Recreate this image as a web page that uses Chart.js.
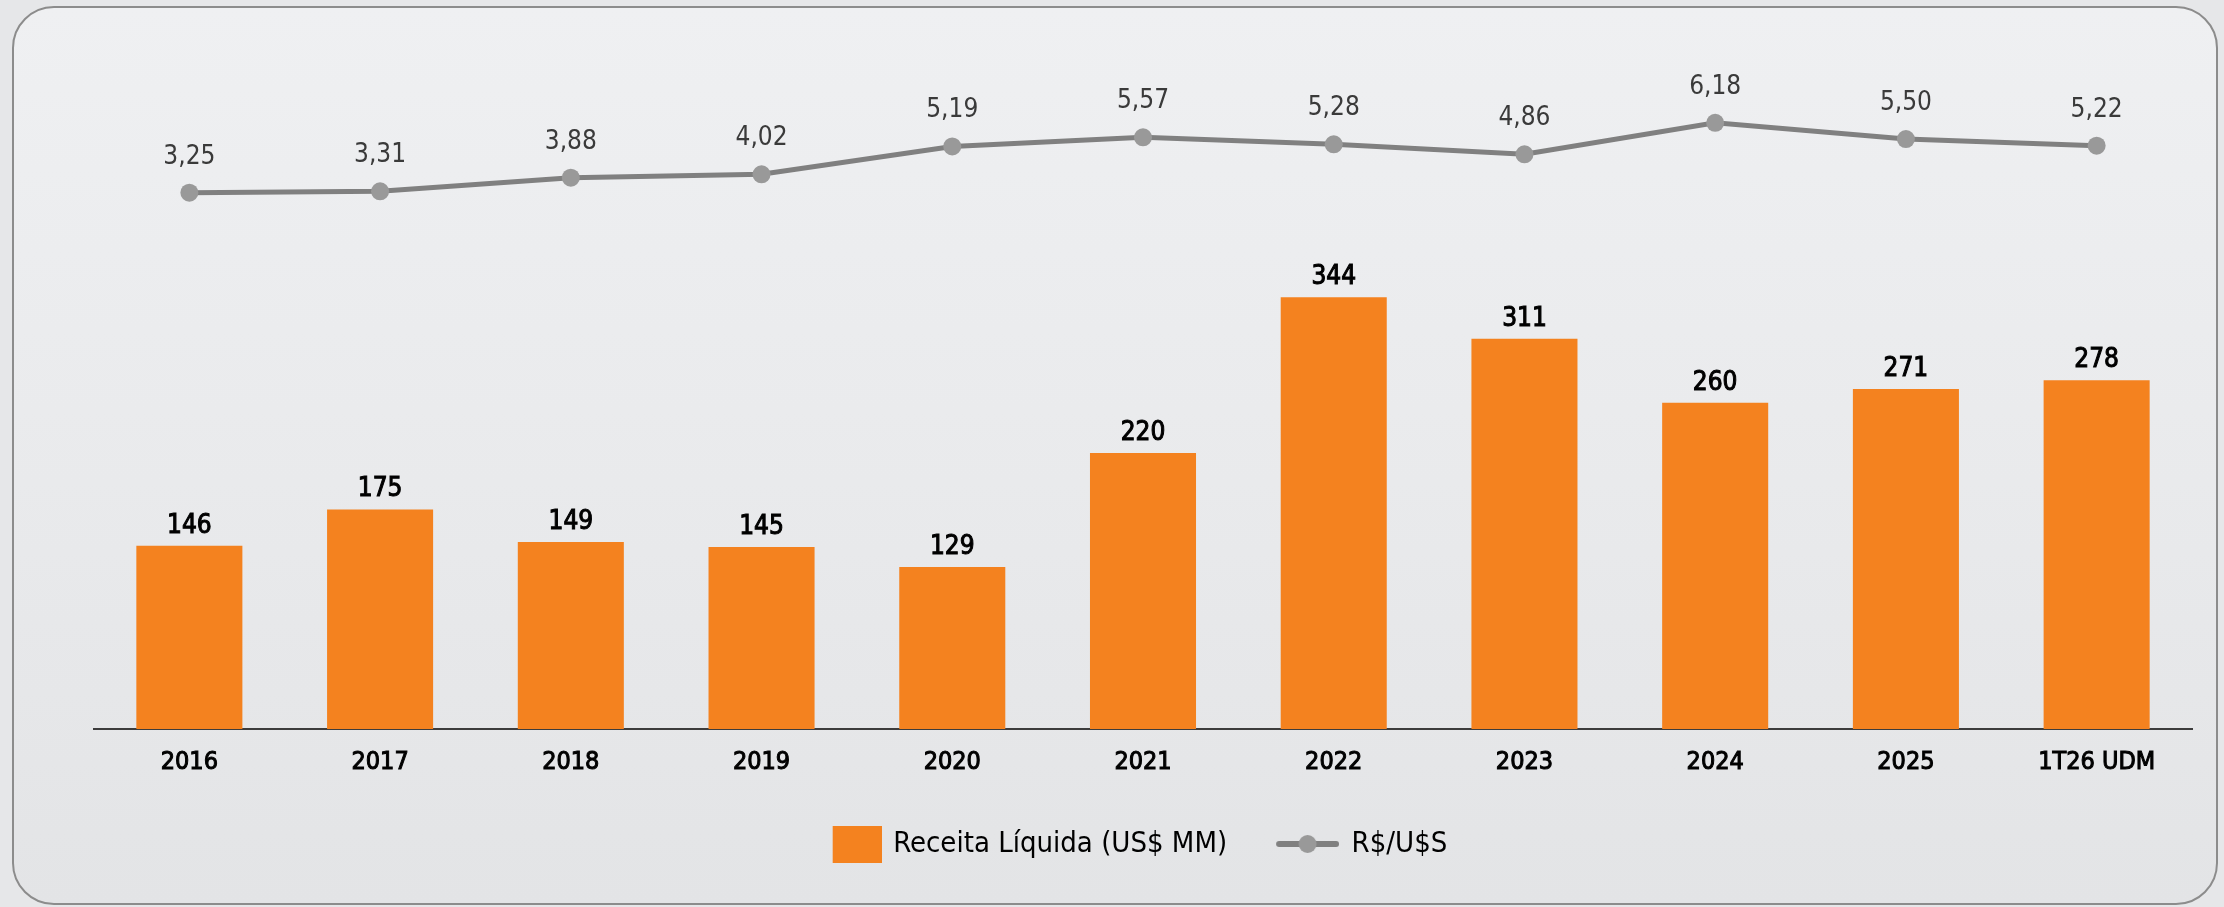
<!DOCTYPE html>
<html>
<head>
<meta charset="utf-8">
<script src="https://cdn.jsdelivr.net/npm/chart.js@4.4.1/dist/chart.umd.min.js"></script>
<style>
  html, body { margin: 0; padding: 0; width: 2224px; height: 907px; overflow: hidden; background: #e6e7e9; }
  .frame {
    position: absolute; left: 12px; top: 6px; width: 2206px; height: 899px;
    box-sizing: border-box; border: 2px solid #8c8c8c; border-radius: 42px;
    background: linear-gradient(180deg, #eff0f2 0%, #eaebed 45%, #e3e4e6 100%);
  }
  #chart { position: absolute; left: 0; top: 0; }
</style>
</head>
<body>
<div class="frame"></div>
<canvas id="chart" width="2224" height="907"></canvas>
<script>
const FONT = "'DejaVu Sans Condensed', 'DejaVu Sans', sans-serif";

// categories and series
const years = ['2016', '2017', '2018', '2019', '2020', '2021', '2022', '2023', '2024', '2025', '1T26 UDM'];
const receita = [146, 175, 149, 145, 129, 220, 344, 311, 260, 271, 278];
const cambio = [3.25, 3.31, 3.88, 4.02, 5.19, 5.57, 5.28, 4.86, 6.18, 5.50, 5.22];

const orange = '#f4821f';
const lineGrey = '#808080';
const dotGrey = '#999999';

// legend icons (canvas images used as point styles)
function rectIcon(canvasW, x0, w, h) {
  const c = document.createElement('canvas');
  c.width = canvasW; c.height = h;
  const g = c.getContext('2d');
  g.fillStyle = orange;
  g.fillRect(x0, 0, w, h);
  return c;
}
function lineIcon(canvasW, x0, w, h) {
  const c = document.createElement('canvas');
  c.width = canvasW; c.height = h;
  const g = c.getContext('2d');
  g.strokeStyle = lineGrey; g.lineWidth = 6; g.lineCap = 'round';
  g.beginPath(); g.moveTo(x0 + 3, h / 2); g.lineTo(x0 + w - 3, h / 2); g.stroke();
  g.fillStyle = dotGrey;
  g.beginPath(); g.arc(x0 + w / 2, h / 2, 9, 0, Math.PI * 2); g.fill();
  return c;
}

// value labels above bars and points
const valueLabels = {
  id: 'valueLabels',
  afterDatasetsDraw(chart) {
    const ctx = chart.ctx;
    ctx.save();
    ctx.textAlign = 'center';
    ctx.textBaseline = 'alphabetic';
    ctx.fillStyle = '#000000';
    ctx.strokeStyle = '#000000';
    ctx.lineWidth = 1;
    ctx.font = '26px ' + FONT;
    chart.getDatasetMeta(0).data.forEach((bar, i) => {
      const txt = String(receita[i]);
      ctx.fillText(txt, bar.x, bar.y - 13);
      ctx.strokeText(txt, bar.x, bar.y - 13);
    });
    ctx.fillStyle = '#3a3a3a';
    chart.getDatasetMeta(1).data.forEach((pt, i) => {
      ctx.fillText(cambio[i].toFixed(2).replace('.', ','), pt.x, pt.y - 29);
    });
    ctx.restore();
  }
};

// small horizontal nudge for the legend row
const legendShift = {
  id: 'legendShift',
  afterLayout(chart) {
    chart.legend.left -= 10;
    chart.legend.right -= 10;
  }
};

new Chart(document.getElementById('chart'), {
  data: {
    labels: years,
    datasets: [
      {
        type: 'bar',
        label: 'Receita Líquida (US$ MM)',
        data: receita,
        backgroundColor: orange,
        borderWidth: 0,
        yAxisID: 'y',
        categoryPercentage: 1,
        barPercentage: 0.556
      },
      {
        type: 'line',
        label: 'R$/U$S',
        data: cambio,
        borderColor: lineGrey,
        borderWidth: 5,
        pointRadius: 9,
        pointBackgroundColor: dotGrey,
        pointBorderWidth: 0,
        tension: 0,
        yAxisID: 'y1'
      }
    ]
  },
  options: {
    responsive: false,
    animation: false,
    layout: { padding: { left: 94, right: 32, top: 20, bottom: 38.5 } },
    plugins: {
      tooltip: { enabled: false },
      legend: {
        position: 'bottom',
        labels: {
          usePointStyle: true,
          pointStyleWidth: 60,
          padding: 50,
          color: '#000000',
          font: { family: FONT, size: 29 },
          generateLabels: chart => {
            const items = Chart.defaults.plugins.legend.labels.generateLabels(chart);
            items[0].pointStyle = rectIcon(66, 17, 49, 37);
            items[1].pointStyle = lineIcon(64, 1, 63, 20);
            return items;
          }
        }
      }
    },
    scales: {
      x: {
        grid: { display: false, drawTicks: false },
        border: { color: '#3c3c3c', width: 2 },
        ticks: {
          color: '#000000',
          textStrokeColor: '#000000',
          textStrokeWidth: 1,
          padding: 18,
          font: { family: FONT, size: 25 }
        },
        afterFit: scale => { scale.height = 50.5; }
      },
      y: { display: false, min: 0, max: 565 },
      y1: { display: false, min: -19.227, max: 10.488 }
    }
  },
  plugins: [valueLabels, legendShift]
});
</script>
</body>
</html>
